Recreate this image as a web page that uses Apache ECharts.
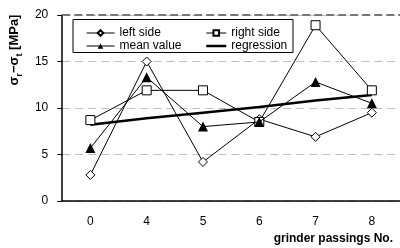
<!DOCTYPE html>
<html>
<head>
<meta charset="utf-8">
<script src="https://cdn.jsdelivr.net/npm/echarts@6/dist/echarts.min.js"></script>
<style>
  html, body { margin: 0; padding: 0; background: #fff; }
  #chart { width: 400px; height: 248px; }
</style>
</head>
<body>
<div id="chart"></div>
<script>
const categories = ['0', '4', '5', '6', '7', '8']
const leftSide = [2.8, 15.0, 4.2, 8.8, 6.9, 9.5]
const rightSide = [8.7, 11.9, 11.9, 8.5, 18.9, 11.9]
const meanValue = [5.7, 13.3, 8.0, 8.5, 12.8, 10.5]
const regression = [8.2, 8.9, 9.5, 10.1, 10.8, 11.4]
const yTicks = [0, 5, 10, 15, 20]

const font = 'Liberation Sans, Arial, sans-serif'
const chart = echarts.init(document.getElementById('chart'))

chart.setOption({
  animation: false,
  textStyle: { fontFamily: font, color: '#000' },
  grid: { left: 62, top: 15, width: 342, bottom: 47 },
  graphic: [
    {
      type: 'rect',
      z: 3,
      shape: { x: 73, y: 19.5, width: 220, height: 33 },
      style: { fill: '#fff', stroke: '#000', lineWidth: 1 },
    },
  ],
  legend: [
    {
      orient: 'vertical',
      left: 81,
      top: 22,
      itemWidth: 28,
      itemHeight: 7,
      itemGap: 1,
      lineStyle: { width: 1 },
      data: ['left side', 'mean value'],
      textStyle: { fontSize: 12, color: '#000', lineHeight: 12 },
    },
    {
      orient: 'vertical',
      left: 200,
      top: 22,
      itemWidth: 20,
      itemHeight: 7,
      itemGap: 1,
      data: [
        { name: 'right side', lineStyle: { width: 1 } },
        { name: 'regression', itemStyle: { opacity: 0 }, lineStyle: { width: 2.5 } },
      ],
      textStyle: { fontSize: 12, color: '#000', lineHeight: 12 },
    },
  ],
  xAxis: {
    type: 'category',
    data: categories,
    name: 'grinder passings No.',
    nameLocation: 'end',
    nameGap: -7,
    nameTextStyle: {
      fontSize: 12,
      fontWeight: 'bold',
      align: 'right',
      verticalAlign: 'top',
      padding: [32, 0, 0, 0],
    },
    axisLine: { lineStyle: { color: '#000', width: 1.5 } },
    axisTick: { length: 5, lineStyle: { color: '#000' } },
    axisLabel: { fontSize: 12, color: '#000', margin: 15 },
  },
  yAxis: {
    type: 'value',
    min: yTicks[0],
    max: yTicks[yTicks.length - 1],
    interval: 5,
    name: '{a|σ}{s|r}{a|−σ}{s|t}{a| [MPa]}',
    nameLocation: 'middle',
    nameGap: 32,
    nameRotate: 90,
    nameTextStyle: {
      padding: [0, 0, 0, 116],
      rich: {
        a: { fontSize: 13, fontWeight: 'bold', fontFamily: font, color: '#000', verticalAlign: 'bottom', padding: [0, 0, 3, 0] },
        s: { fontSize: 9, fontWeight: 'bold', fontFamily: font, color: '#000', verticalAlign: 'bottom' },
      },
    },
    axisLine: { show: true, lineStyle: { color: '#000', width: 1.5 } },
    axisTick: { show: true, length: 5, lineStyle: { color: '#000' } },
    axisLabel: { fontSize: 12, color: '#000', margin: 14 },
    splitLine: {
      lineStyle: { color: '#c0c0c0', type: [8, 5], width: 1 },
    },
  },
  series: [
    {
      name: 'left side',
      type: 'line',
      data: leftSide,
      symbol: 'diamond',
      symbolSize: 9,
      lineStyle: { color: '#000', width: 1 },
      itemStyle: { color: '#fff', borderColor: '#000', borderWidth: 1 },
      markLine: {
        silent: true,
        symbol: 'none',
        label: { show: false },
        lineStyle: { color: '#777', type: [8, 4], width: 2 },
        data: [{ yAxis: 20 }],
      },
      z: 5,
    },
    {
      name: 'right side',
      type: 'line',
      data: rightSide,
      symbol: 'rect',
      symbolSize: 9,
      lineStyle: { color: '#000', width: 1 },
      itemStyle: { color: '#fff', borderColor: '#000', borderWidth: 1 },
      z: 5,
    },
    {
      name: 'mean value',
      type: 'line',
      data: meanValue,
      symbol: 'triangle',
      symbolSize: 10,
      lineStyle: { color: '#000', width: 1 },
      itemStyle: { color: '#000' },
      z: 6,
    },
    {
      name: 'regression',
      type: 'line',
      data: regression,
      symbol: 'none',
      lineStyle: { color: '#000', width: 2.5 },
      itemStyle: { color: '#000' },
      z: 4,
    },
  ],
})
</script>
</body>
</html>
